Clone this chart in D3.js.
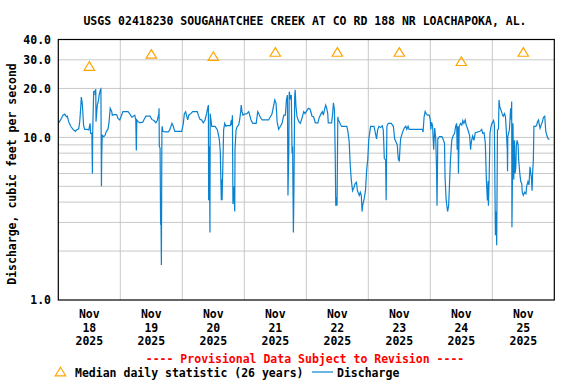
<!DOCTYPE html>
<html><head><meta charset="utf-8">
<script src="https://cdn.jsdelivr.net/npm/d3@7"></script>
<style>html,body{margin:0;padding:0;background:#fff;}svg{display:block;}</style>
</head><body><svg id="c" width="576" height="384"></svg>
<script>
const title = "USGS 02418230 SOUGAHATCHEE CREEK AT CO RD 188 NR LOACHAPOKA, AL.";
const yLabel = "Discharge, cubic feet per second";
const yTickValues = [1, 10, 20, 30, 40];
const yGridValues = [2, 3, 4, 5, 6, 7, 8, 9, 10, 20, 30];
const dayLabels = ["18", "19", "20", "21", "22", "23", "24", "25"];
const medianCfs = [27.3, 32.4, 31.4, 33.3, 33.3, 33.3, 29.2, 33.3];
// [hours since 2025-11-18 00:00, discharge cfs]
const discharge = [
[0,12.2],[0.9,12.8],[1.8,13.7],[2.5,13.9],[3.1,13.4],[3.5,13.5],[4.0,12.5],[4.8,11.7],[5.7,11.2],[6.6,10.9],[7.0,11.1],[7.9,11.3],[8.3,12.5],[8.7,15.4],[8.9,17.7],[9.2,16.6],[9.4,15.1],[9.8,11.8],[10.2,11.2],[11.2,11.2],[11.8,11.1],[12.3,12.2],[12.5,10.6],[13.0,10.6],[13.2,6.0],[13.3,10.6],[13.7,19.1],[14.2,19.3],[14.3,18.2],[14.5,19.8],[14.6,12.5],[14.9,14.4],[15.1,15.8],[15.6,17.0],[15.8,18.2],[16.3,19.6],[16.5,19.8],[16.6,9.6],[16.7,5.0],[16.8,7.6],[17.0,10.3],[17.6,10.1],[18.1,10.3],[18.6,10.9],[19.2,11.2],[19.6,12.2],[20.1,15.1],[20.7,14.4],[20.9,13.7],[21.8,13.8],[22.6,13.8],[23.1,13.1],[23.8,12.8],[24.2,13.3],[25.0,14.4],[27.0,14.4],[27.6,14.0],[28.5,13.3],[29.6,13.7],[30.0,12.8],[30.2,8.3],[30.4,12.8],[30.9,12.5],[31.6,12.3],
[32.7,12.4],[33.2,12.9],[33.9,13.5],[35.5,13.5],[36.2,12.9],[37.0,12.7],[37.8,12.3],[38.3,12.7],[38.9,14.0],[39.0,15.1],[39.1,8.8],[39.4,8.6],[39.6,2.9],[39.7,4.3],[39.9,1.64],[40.0,4.0],[40.1,11.1],[40.2,11.7],[40.5,10.9],[41.3,10.8],[42.6,10.8],[43.2,11.2],[44.0,12.2],[44.5,11.7],[45.1,10.9],[47.8,10.9],[48.4,12.2],[48.8,14.0],[49.3,14.4],[49.7,13.5],[50.1,12.8],[50.5,13.7],[51.3,14.0],[52.0,14.4],[53.8,14.4],[54.2,13.7],[54.9,12.9],[55.5,12.8],[56.1,12.3],[56.8,12.8],[57.4,14.0],[57.8,15.1],[58.1,15.8],[58.2,4.1],[58.5,8.8],[58.7,2.6],[58.8,14.0],[59.1,12.8],[59.4,11.7],[60.7,11.7],[61.6,11.1],[62.3,9.8],[62.7,8.2],[63.1,4.1],[63.3,5.5],[63.4,4.1],[63.6,5.8],[64.0,11.1],
[64.4,12.2],[64.9,11.7],[65.3,11.8],[66.6,11.8],[67.0,12.8],[67.2,11.9],[67.4,13.7],[67.6,3.9],[67.9,5.0],[68.3,3.5],[68.4,8.4],[68.8,11.1],[69.3,11.7],[69.8,11.9],[70.2,12.8],[70.6,14.4],[70.8,15.8],[71.1,14.4],[71.5,13.7],[72.0,13.9],[73.0,14.0],[73.7,14.4],[74.1,13.7],[74.6,12.8],[75.3,12.2],[76.6,12.2],[77.2,14.4],[77.6,14.0],[78.2,13.3],[78.9,12.8],[81.4,12.8],[82.1,13.4],[82.7,13.9],[83.4,15.8],[83.8,17.0],[84.3,16.2],[84.7,12.5],[85.3,11.2],[86.0,11.7],[86.6,12.2],[87.3,13.7],[87.9,13.7],[88.3,17.0],[88.7,18.2],[88.9,4.4],[89.2,8.0],[89.4,19.1],[89.8,17.5],[90.2,18.2],[90.5,8.0],[90.7,8.8],[91.0,2.6],[91.2,4.5],[91.5,17.8],[91.7,19.6],[92.0,15.5],[92.4,13.4],[93.1,12.5],[93.7,12.2],[94.3,13.1],[95.0,14.4],
[95.5,14.0],[96.2,14.6],[96.8,15.1],[97.5,14.9],[98.2,13.5],[98.8,13.4],[99.5,12.3],[100.5,12.3],[100.9,13.1],[101.7,14.0],[102.2,14.4],[102.6,13.7],[103.0,14.7],[103.5,15.8],[103.9,15.1],[104.3,14.0],[104.5,12.3],[105.8,12.3],[106.2,14.0],[106.5,16.3],[106.9,14.7],[107.2,7.8],[107.4,3.8],[107.7,4.3],[107.9,3.8],[108.2,13.4],[108.4,12.8],[108.8,12.5],[109.2,12.0],[109.7,11.7],[111.7,11.7],[112.1,10.9],[112.6,9.4],[113.0,6.8],[113.4,5.5],[113.9,4.7],[114.4,4.9],[114.9,5.2],[115.4,5.3],[115.8,4.7],[116.5,4.4],[116.9,4.6],[117.3,4.4],[117.6,3.5],[117.8,3.8],[118.4,4.2],[118.9,4.7],[119.4,6.4],[119.8,7.3],[120.2,9.8],[120.9,11.7],[122.2,11.7],[122.6,10.9],[123.2,9.8],[123.6,11.1],[124.1,11.7],[124.8,11.5],[125.4,11.8],[125.8,11.1],[126.2,7.4],[126.7,7.3],[126.9,4.1],[127.2,11.7],[127.7,12.2],
[128.9,12.2],[129.7,11.7],[130.2,9.8],[130.7,9.4],[131.2,9.0],[131.6,7.4],[132.0,7.1],[132.3,8.8],[132.5,9.8],[133.2,10.7],[133.9,11.4],[134.5,11.7],[134.9,11.2],[135.4,11.7],[135.8,11.2],[140.9,11.2],[141.2,10.8],[141.6,13.4],[142.0,14.4],[142.4,14.0],[142.9,13.7],[143.6,13.7],[144.0,12.8],[144.2,11.2],[144.5,12.4],[144.9,11.7],[145.3,8.4],[145.7,11.4],[146.1,9.8],[146.4,6.6],[146.6,3.8],[146.9,9.8],[147.6,10.1],[148.5,10.1],[149.0,9.7],[149.5,9.2],[149.7,5.75],[150.1,4.2],[150.4,3.8],[150.7,3.5],[151.1,3.8],[151.4,5.0],[151.8,7.3],[152.3,9.6],[152.8,10.2],[153.4,10.6],[153.8,11.7],[154.2,12.2],[154.4,8.4],[154.7,11.7],[154.9,6.0],[155.2,11.7],[155.7,12.2],[156.2,11.9],[156.6,12.7],[157.0,12.2],[157.5,12.8],[157.9,11.9],[158.6,11.1],[159.2,10.3],[159.6,8.4],
[159.7,8.8],[160.0,9.6],[160.4,10.2],[160.9,9.6],[161.4,10.7],[163.2,10.9],[163.9,11.2],[164.3,10.6],[164.8,10.7],[165.3,9.2],[165.7,5.5],[166.1,4.1],[166.4,5.4],[166.5,3.8],[166.8,5.75],[167.1,10.6],[167.5,11.7],[167.9,12.2],[168.5,12.7],[168.8,12.0],[169.2,2.5],[169.5,3.5],[169.7,2.17],[170.0,11.1],[170.4,11.3],[170.6,17.0],[170.9,15.4],[171.4,14.7],[171.8,14.0],[172.2,13.5],[172.7,14.0],[173.1,13.4],[173.4,11.1],[173.8,8.4],[173.9,6.2],[174.0,10.1],[174.6,11.1],[174.8,12.5],[175.1,15.1],[175.4,12.8],[175.5,16.6],[175.6,2.8],[175.8,5.6],[176.0,12.2],[176.3,5.5],[176.6,9.6],[176.8,6.0],[177.1,6.5],[177.3,8.8],[177.6,9.6],[178.0,9.0],[178.2,7.3],[178.6,6.1],[179.0,5.35],[179.4,5.2],[179.6,4.6],[180.0,4.4],[180.5,4.6],[181.0,4.5],[181.3,5.0],[181.8,5.35],[182.2,5.1],[182.6,6.6],[182.9,6.0],[183.1,5.75],[183.4,4.7],[183.6,6.0],[183.9,7.3],[184.1,11.7],[184.8,11.7],[185.2,11.9],[185.5,12.5],[185.9,12.8],[186.1,12.2],[186.5,11.4],[186.9,11.9],[187.4,12.5],[187.8,13.3],[188.3,13.5],[188.7,10.9],[189.1,10.3],[189.6,9.8],[190.1,9.7]
];

const FONT = "'DejaVu Sans Mono', 'Liberation Mono', monospace";
const svg = d3.select("#c");
const L = 58.3, R = 554.3, T = 39.5, B = 300;
const t0 = Date.UTC(2025, 10, 18);
const H = 3600e3;
const x = d3.scaleUtc().domain([new Date(t0), new Date(t0 + 8 * 24 * H)]).range([L, R]);
const y = d3.scaleLog().domain([1, 40]).range([B, T]);

// gridlines
const g = svg.append("g");
g.selectAll("line.h").data(yGridValues).join("line")
  .attr("x1", L).attr("x2", R).attr("y1", d => y(d)).attr("y2", d => y(d))
  .attr("stroke", "#c8c8c8").attr("stroke-width", 1);
const dayBounds = d3.range(1, 8).map(i => new Date(t0 + i * 24 * H));
g.selectAll("line.v").data(dayBounds).join("line")
  .attr("x1", d => x(d)).attr("x2", d => x(d)).attr("y1", T).attr("y2", B)
  .attr("stroke", "#c8c8c8").attr("stroke-width", 1);

// discharge line
const line = d3.line().x(d => x(new Date(t0 + d[0] * H))).y(d => y(d[1]));
svg.append("path").datum(discharge).attr("d", line)
  .attr("fill", "none").attr("stroke", "#0a82d0").attr("stroke-width", 1.2)
  .attr("stroke-linejoin", "miter");

// median triangles
const tri = (cx, cy) => `M${cx},${cy - 4.8}L${cx + 5.2},${cy + 3.8}L${cx - 5.2},${cy + 3.8}Z`;
svg.selectAll("path.med").data(medianCfs).join("path")
  .attr("d", (d, i) => tri(x(new Date(t0 + (i * 24 + 12) * H)), y(d)))
  .attr("fill", "none").attr("stroke", "#ffa500").attr("stroke-width", 1.2);

// frame
svg.append("rect").attr("x", L).attr("y", T).attr("width", R - L).attr("height", B - T)
  .attr("fill", "none").attr("stroke", "#000").attr("stroke-width", 1.2);

// y tick labels
svg.selectAll("text.yt").data(yTickValues).join("text")
  .attr("x", 51).attr("y", d => y(d) + 4.2).attr("text-anchor", "end")
  .attr("font-family", FONT).attr("font-weight", "bold").attr("font-size", "11.5px")
  .text(d => d3.format(".1f")(d));

// x tick labels
const xt = svg.selectAll("g.xt").data(dayLabels).join("g")
  .attr("transform", (d, i) => `translate(${x(new Date(t0 + (i * 24 + 12) * H))},0)`);
[["Nov", 318.3], [null, 331.5], ["2025", 344.8]].forEach(([s, yy]) => {
  xt.append("text").attr("y", yy).attr("text-anchor", "middle")
    .attr("font-family", FONT).attr("font-weight", "bold").attr("font-size", "11.5px")
    .text(d => s === null ? d : s);
});

// title
svg.append("text").attr("x", 305).attr("y", 24.5).attr("text-anchor", "middle")
  .attr("font-family", FONT).attr("font-weight", "bold").attr("font-size", "11.5px").text(title);

// y label
svg.append("text").attr("transform", "translate(15.8,174) rotate(-90)").attr("text-anchor", "middle")
  .attr("font-family", FONT).attr("font-weight", "bold").attr("font-size", "11.5px").text(yLabel);

// provisional
svg.append("text").attr("x", 305).attr("y", 363.2).attr("text-anchor", "middle")
  .attr("font-family", FONT).attr("font-weight", "bold").attr("font-size", "11.5px")
  .attr("fill", "#ff0000").text("---- Provisional Data Subject to Revision ----");

// legend
svg.append("path").attr("d", tri(60.5, 372)).attr("fill", "none").attr("stroke", "#ffa500").attr("stroke-width", 1.2);
svg.append("text").attr("x", 75).attr("y", 376.8)
  .attr("font-family", FONT).attr("font-weight", "bold").attr("font-size", "11.5px")
  .text("Median daily statistic (26 years)");
svg.append("line").attr("x1", 312).attr("x2", 333).attr("y1", 372).attr("y2", 372)
  .attr("stroke", "#0a82d0").attr("stroke-width", 1.2);
svg.append("text").attr("x", 337).attr("y", 376.8)
  .attr("font-family", FONT).attr("font-weight", "bold").attr("font-size", "11.5px")
  .text("Discharge");
</script></body></html>
